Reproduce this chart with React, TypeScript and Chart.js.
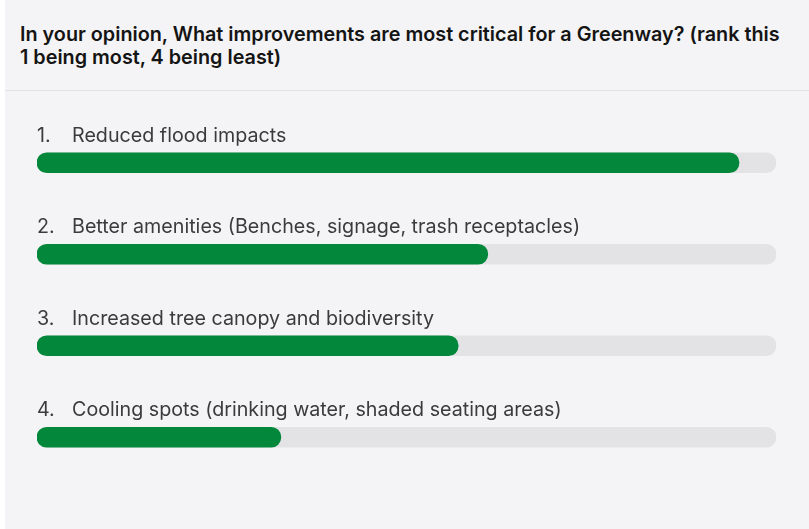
import React, { useEffect, useRef } from "react";
import { Chart, registerables } from "chart.js";

Chart.register(...registerables);

const titleLines = [
  "In your opinion, What improvements are most critical for a Greenway? (rank this",
  "1 being most, 4 being least)",
];
const categories = [
  "Reduced flood impacts",
  "Better amenities (Benches, signage, trash receptacles)",
  "Increased tree canopy and biodiversity",
  "Cooling spots (drinking water, shaded seating areas)",
];
const values = [95, 61, 57, 33];
const trackValues = [100, 100, 100, 100];

const labelPlugin = {
  id: "rowLabels",
  afterDatasetsDraw(chart: any) {
    const ctx = chart.ctx;
    const y = chart.scales.y;
    const x = chart.scales.x;
    ctx.save();
    ctx.font = "400 19.7px Inter";
    ctx.fillStyle = "#3b3b3d";
    ctx.textBaseline = "middle";
    ctx.textAlign = "left";
    categories.forEach((c, i) => {
      const cy = y.getPixelForValue(i) - 27;
      const x0 = x.getPixelForValue(0);
      ctx.fillText(`${i + 1}.`, x0, cy);
      ctx.fillText(c, x0 + 35, cy);
    });
    ctx.restore();
  },
};

export default function App() {
  const ref = useRef<HTMLCanvasElement | null>(null);
  useEffect(() => {
    if (!ref.current) return;
    const chart = new Chart(ref.current, {
      type: "bar",
      data: {
        labels: categories,
        datasets: [
          {
            data: values,
            backgroundColor: "#03873a",
            borderRadius: 10,
            borderSkipped: false,
            barThickness: 20,
            grouped: false,
            order: 0,
          } as any,
          {
            data: trackValues,
            backgroundColor: "#e3e2e5",
            borderRadius: 10,
            borderSkipped: false,
            barThickness: 20,
            grouped: false,
            order: 1,
          } as any,
        ],
      },
      options: {
        indexAxis: "y",
        animation: false,
        responsive: false,
        layout: { padding: { left: 32, right: 33, top: 26, bottom: 46 } },
        scales: {
          x: { display: false, min: 0, max: 100 },
          y: { display: false },
        },
        plugins: {
          legend: { display: false },
          tooltip: { enabled: false },
          title: { display: false },
        },
      },
      plugins: [labelPlugin],
    });
    return () => chart.destroy();
  }, []);

  return (
    <div
      style={{
        position: "fixed",
        left: 5,
        top: 0,
        width: 804,
        height: 529,
        background: "#f4f4f6",
        fontFamily: "Inter, sans-serif",
      }}
    >
      <div
        style={{
          position: "absolute",
          left: 15,
          top: 23,
          fontSize: 19.8,
          fontWeight: 600,
          lineHeight: "23px",
          color: "#141414",
          whiteSpace: "nowrap",
        }}
      >
        {titleLines.map((t, i) => (
          <div key={i}>{t}</div>
        ))}
      </div>
      <div
        style={{
          position: "absolute",
          left: 0,
          top: 90,
          width: 804,
          height: 1,
          background: "#e2e2e5",
        }}
      />
      <canvas
        ref={ref}
        width={804}
        height={438}
        style={{ position: "absolute", left: 0, top: 91, width: 804, height: 438 }}
      />
    </div>
  );
}
